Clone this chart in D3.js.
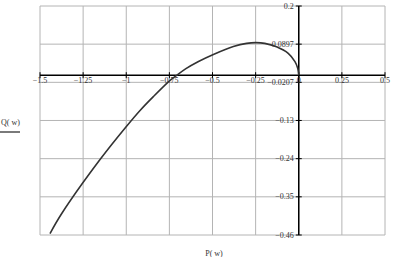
<!DOCTYPE html>
<html>
  <head>
    <meta charset="utf-8">
    <style>
      body { margin: 0; background-color: white; }
      text { font-family: "Liberation Serif", serif; font-size: 8px; fill: #333; }
    </style>
  </head>
  <body>
    <svg width="404" height="257"></svg>
    <script src="https://d3js.org/d3.v7.min.js"></script>
    <script>
    // tick values as Mathcad shows them
    var xTicks = [-1.5, -1.25, -1, -0.75, -0.5, -0.25, 0, 0.25, 0.5];
    var xLabels = ["-1.5", "-1.25", "-1", "-0.75", "-0.5", "-0.25", "0", "0.25", "0.5"];
    var yTicks = [0.2, 0.0897, -0.0207, -0.131, -0.2414, -0.3517, -0.4621];
    var yLabels = ["0.2", "0.0897", "-0.0207", "-0.13", "-0.24", "-0.35", "-0.46"];

    // curve: P(w) and Q(w)
    var P = [-1.442, -1.374, -1.152, -0.997, -0.920, -0.843, -0.746, -0.712, -0.654,
             -0.584, -0.495, -0.379, -0.302, -0.249, -0.197, -0.129, -0.061, -0.022, -0.006, 0];
    var Q = [-0.458, -0.400, -0.244, -0.147, -0.102, -0.062, -0.015, -0.002, 0.019,
             0.039, 0.060, 0.083, 0.092, 0.094, 0.092, 0.082, 0.063, 0.039, 0.020, 0];

    var svg = d3.select("svg");
    var x = d3.scaleLinear().domain([-1.5, 0.5]).range([40, 385]);
    var y = d3.scaleLinear().domain([-0.4621, 0.2]).range([235, 6]);

    // grid
    svg.append("g").selectAll("line").data(xTicks).enter().append("line")
        .attr("x1", function(d) { return x(d); }).attr("x2", function(d) { return x(d); })
        .attr("y1", y(0.2)).attr("y2", y(-0.4621))
        .attr("stroke", "#b4b4b4").attr("stroke-width", 1);
    svg.append("g").selectAll("line").data(yTicks).enter().append("line")
        .attr("x1", x(-1.5)).attr("x2", x(0.5))
        .attr("y1", function(d) { return y(d); }).attr("y2", function(d) { return y(d); })
        .attr("stroke", "#b4b4b4").attr("stroke-width", 1);

    // axes crossing at the origin
    var y0 = y(0), x0 = x(0);
    svg.append("line").attr("x1", x(-1.5)).attr("x2", x(0.5)).attr("y1", y0).attr("y2", y0)
        .attr("stroke", "black").attr("stroke-width", 1.5);
    svg.append("line").attr("x1", x0).attr("x2", x0).attr("y1", y(0.2)).attr("y2", y(-0.4621))
        .attr("stroke", "black").attr("stroke-width", 1.5);

    svg.append("g").selectAll("line").data(xTicks).enter().append("line")
        .attr("x1", function(d) { return x(d); }).attr("x2", function(d) { return x(d); })
        .attr("y1", y0 - 3).attr("y2", y0 + 3).attr("stroke", "black");
    svg.append("g").selectAll("line").data(yTicks).enter().append("line")
        .attr("x1", x0 - 3).attr("x2", x0 + 3)
        .attr("y1", function(d) { return y(d); }).attr("y2", function(d) { return y(d); })
        .attr("stroke", "black");

    svg.append("g").selectAll("text").data(xTicks).enter().append("text")
        .attr("x", function(d) { return x(d); }).attr("y", y0 + 8)
        .attr("text-anchor", "middle")
        .text(function(d, i) { return xLabels[i].replace("-", "\u2212"); });
    svg.append("g").selectAll("text").data(yTicks).enter().append("text")
        .attr("x", x0 - 5).attr("y", function(d) { return y(d) + 2.5; })
        .attr("text-anchor", "end")
        .text(function(d, i) { return yLabels[i].replace("-", "\u2212"); });

    // curve
    var pts = P.map(function(p, i) { return [p, Q[i]]; });
    svg.append("path").datum(pts)
        .attr("fill", "none").attr("stroke", "#333").attr("stroke-width", 1.6)
        .attr("d", d3.line().curve(d3.curveCatmullRom)
          .x(function(d) { return x(d[0]); }).y(function(d) { return y(d[1]); }));

    // axis titles
    svg.append("text").attr("x", 1).attr("y", 125).text("Q( w)");
    svg.append("line").attr("x1", 0).attr("x2", 20).attr("y1", 132).attr("y2", 132)
        .attr("stroke", "#222").attr("stroke-width", 1.2);
    svg.append("text").attr("x", 214).attr("y", 256).attr("text-anchor", "middle").text("P( w)");
    </script>
  </body>
</html>
